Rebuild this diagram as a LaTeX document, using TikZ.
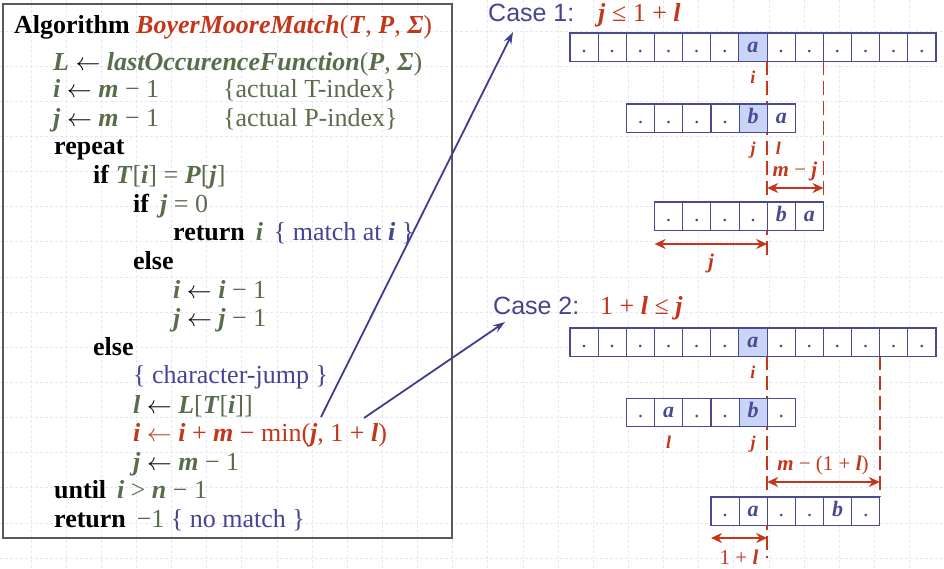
\documentclass[tikz,border=0pt]{standalone}
\usepackage{fontspec}
\setmainfont{Liberation Serif}
\newfontfamily\casefont{Liberation Sans}
\usetikzlibrary{arrows.meta,positioning,calc}
\definecolor{algred}{HTML}{C4361A}
\definecolor{alggreen}{HTML}{5A6D4B}
\definecolor{cmtblue}{HTML}{45458F}
\definecolor{cellblue}{HTML}{4A4A94}
\definecolor{cellfill}{HTML}{C8D5F6}
\definecolor{linkblue}{HTML}{3E3E8C}
\definecolor{gridblue}{HTML}{E4E8F8}
\newcommand{\bi}[1]{\textbf{\textit{#1}}}
\newcommand{\kw}[1]{\textbf{#1}}
\newcommand{\assign}{\mbox{$\leftarrow$}}
\newcommand{\bassign}{{\color{black}\assign}}

\begin{document}
\begin{tikzpicture}[x=1pt, y=-1pt,
  line/.style={anchor=base west, inner sep=0, font=\fontsize{26}{29}\selectfont},
  cell/.style={draw=cellblue, line width=1.1pt, fill=white, minimum width=28.15pt, minimum height=28.4pt,
    inner sep=0, outer sep=0, anchor=north west, text height=10pt, text depth=0pt, text=cellblue,
    font=\fontsize{22}{22}\selectfont},
  hcell/.style={cell, fill=cellfill},
  lbl/.style={inner sep=0, text=algred, font=\fontsize{18}{18}\selectfont\bfseries\itshape},
  dimlbl/.style={inner sep=0, anchor=base, text=algred, font=\fontsize{21}{21}\selectfont},
  casett/.style={anchor=base west, inner sep=0, text=cmtblue, font=\casefont\fontsize{25}{25}\selectfont},
  casemath/.style={anchor=base west, inner sep=0, text=algred, font=\fontsize{26}{26}\selectfont},
  cut/.style={draw=algred, line width=1.9pt, dash pattern=on 14pt off 6pt},
  dimarrow/.style={draw=algred, line width=1.9pt, {Stealth[length=11pt,width=10pt]}-{Stealth[length=11pt,width=10pt]}},
  link/.style={draw=linkblue, line width=1.8pt, -{Stealth[length=12pt,width=8pt]}}]
\useasboundingbox (0,0) rectangle (944,568);

% faint grid
\foreach \k in {0,...,25}
  \draw[gridblue, line width=0.5pt, dash pattern=on 3pt off 2pt] (30.8+\k*35.14,0) -- (30.8+\k*35.14,568);
\foreach \k in {0,...,15}
  \draw[gridblue, line width=0.5pt, dash pattern=on 3pt off 2pt] (0,30.8+\k*35.14) -- (944,30.8+\k*35.14);

% algorithm
\draw[draw=black!65, line width=1.4pt] (3,4) rectangle (452,538);
\node[line] (l1) at (14,33) {\kw{Algorithm} {\color{algred}\bi{BoyerMooreMatch}(\bi{T}, \bi{P}, \bi{Σ})}};
\node[line, text=alggreen] (l2) at (53,70) {\bi{L} \bassign{} \bi{lastOccurenceFunction}(\bi{P}, \bi{Σ})};
\node[line, text=alggreen] (l3) at (53,97) {\bi{i} \bassign{} \bi{m} − 1};
\node[line, text=alggreen] (c3) at (223,97) {\{actual T-index\}};
\node[line, text=alggreen] (l4) at (53,126) {\bi{j} \bassign{} \bi{m} − 1};
\node[line, text=alggreen] (c4) at (223,126) {\{actual P-index\}};
\node[line] (l5) at (54,154) {\kw{repeat}};
\node[line, text=alggreen] (l6) at (93,183) {{\color{black}\kw{if}} \bi{T}[\bi{i}] = \bi{P}[\bi{j}]};
\node[line, text=alggreen] (l7) at (133,212) {{\color{black}\kw{if}}\, \bi{j} = 0};
\node[line, text=alggreen] (l8) at (173,240) {{\color{black}\kw{return}}\, \bi{i}\, {\color{cmtblue}\{ match at \bi{i} \}}};
\node[line] (l9) at (133,269) {\kw{else}};
\node[line, text=alggreen] (l10) at (173,298) {\bi{i} \bassign{} \bi{i} − 1};
\node[line, text=alggreen] (l11) at (173,326) {\bi{j} \bassign{} \bi{j} − 1};
\node[line] (l12) at (93,355) {\kw{else}};
\node[line, text=cmtblue] (l13) at (133,383) {\{ character-jump \}};
\node[line, text=alggreen] (l14) at (133,413) {\bi{l} \bassign{} \bi{L}[\bi{T}[\bi{i}]]};
\node[line, text=algred] (l15) at (133,441) {\bi{i} \assign{} \bi{i} + \bi{m} − min(\bi{j}, 1 + \bi{l})};
\node[line, text=alggreen] (l16) at (133,470) {\bi{j} \bassign{} \bi{m} − 1};
\node[line, text=alggreen] (l17) at (54,498) {{\color{black}\kw{until}}\, \bi{i} > \bi{n} − 1};
\node[line, text=alggreen] (l18) at (54,527) {{\color{black}\kw{return}}\, −1 {\color{cmtblue}\{ no match \}}};

% case 1
\node[casett] (case1) at (488,21) {Case 1:};
\node[casemath] (cond1) at (598,21) {\bi{j} ≤ 1 + \bi{l}};
\draw[cut] (767.2,61) -- (767.2,258);
\draw[cut] (823.5,61) -- (823.5,202);
\foreach \t/\s [count=\k from 0] in {./cell,./cell,./cell,./cell,./cell,./cell,\bi{a}/hcell,./cell,./cell,./cell,./cell,./cell,./cell}
  \node[\s] (ta-\k) at (570+\k*28.15,33) {\t};
\foreach \t/\s [count=\k from 0] in {./cell,./cell,./cell,./cell,\bi{b}/hcell,\bi{a}/cell}
  \node[\s] (pa-\k) at (626.5+\k*28.15,104) {\t};
\foreach \t/\s [count=\k from 0] in {./cell,./cell,./cell,./cell,\bi{b}/cell,\bi{a}/cell}
  \node[\s] (qa-\k) at (654.6+\k*28.15,202) {\t};
\node[lbl, below=9pt of ta-6] (ia) {i};
\node[lbl, below=9pt of pa-4] (ja) {j};
\node[lbl, below=9pt of pa-5, xshift=-3pt] (la) {l};
\coordinate (mja) at (767.2,188);
\coordinate (mjb) at (823.5,188);
\draw[dimarrow] (mja) -- (mjb);
\node[dimlbl] (mj) at (795,176) {\bi{m} − \bi{j}};
\coordinate (jja) at (654.6,244);
\coordinate (jjb) at (767.2,244);
\draw[dimarrow] (jja) -- (jjb);
\node[dimlbl] (jj) at (711,268) {\bi{j}};

% case 2
\node[casett] (case2) at (493,314) {Case 2:};
\node[casemath] (cond2) at (600,314) {1 + \bi{l} ≤ \bi{j}};
\draw[cut] (767.2,356) -- (767.2,558);
\draw[cut] (879.8,356) -- (879.8,497);
\foreach \t/\s [count=\k from 0] in {./cell,./cell,./cell,./cell,./cell,./cell,\bi{a}/hcell,./cell,./cell,./cell,./cell,./cell,./cell}
  \node[\s] (tb-\k) at (570+\k*28.15,328) {\t};
\foreach \t/\s [count=\k from 0] in {./cell,\bi{a}/cell,./cell,./cell,\bi{b}/hcell,./cell}
  \node[\s] (pb-\k) at (626.5+\k*28.15,398.3) {\t};
\foreach \t/\s [count=\k from 0] in {./cell,\bi{a}/cell,./cell,./cell,\bi{b}/cell,./cell}
  \node[\s] (qb-\k) at (711+\k*28.15,497) {\t};
\node[lbl, below=9pt of tb-6] (ib) {i};
\node[lbl, below=9pt of pb-1] (lb) {l};
\node[lbl, below=9pt of pb-4] (jb) {j};
\coordinate (mla) at (767.2,482);
\coordinate (mlb) at (879.8,482);
\draw[dimarrow] (mla) -- (mlb);
\node[dimlbl] (ml) at (823,470) {\bi{m} − (1 + \bi{l})};
\coordinate (ola) at (711,538);
\coordinate (olb) at (767.2,538);
\draw[dimarrow] (ola) -- (olb);
\node[dimlbl] (ol) at (739,564) {1 + \bi{l}};

% links to the cases
\coordinate (jmin) at (321,417);
\coordinate (lmin) at (364,418);
\coordinate (tip1) at (513,32);
\coordinate (tip2) at (505,322);
\draw[link] (jmin) -- (tip1);
\draw[link] (lmin) -- (tip2);
\end{tikzpicture}
\end{document}
